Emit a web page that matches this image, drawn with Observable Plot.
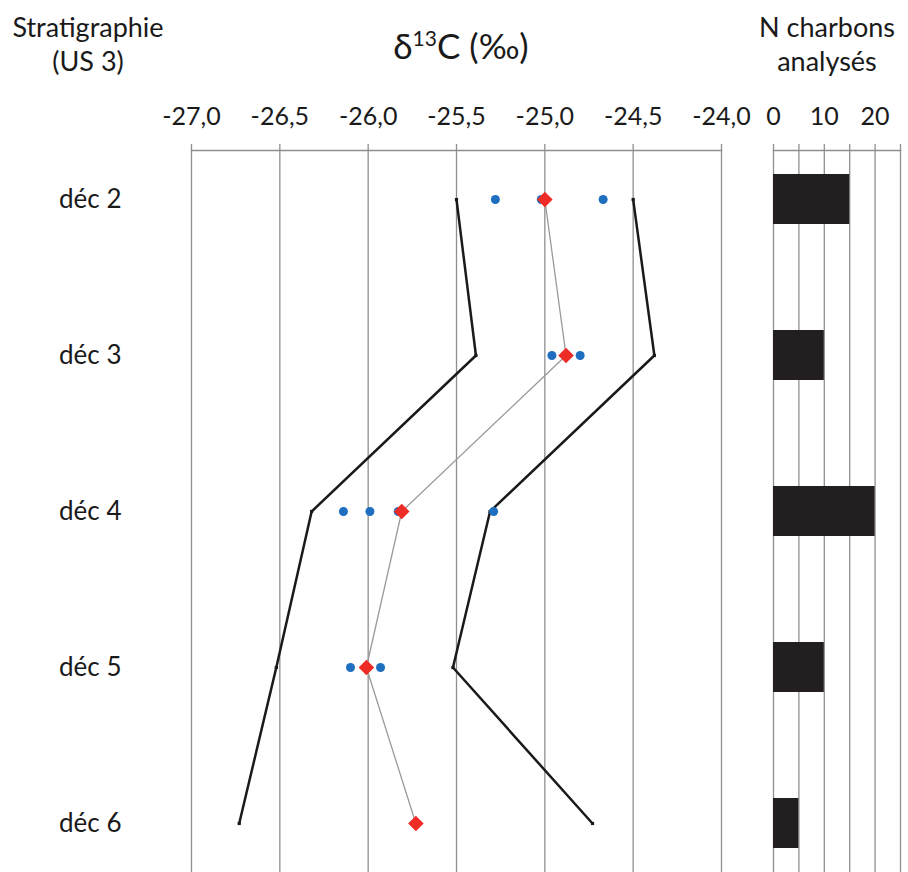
<!DOCTYPE html>
<html>
<head>
<meta charset="utf-8">
<script src="https://cdn.jsdelivr.net/npm/d3@7"></script>
<script src="https://cdn.jsdelivr.net/npm/@observablehq/plot@0.6"></script>
<style>
  body { margin: 0; background: white; }
  #wrap { position: relative; width: 908px; height: 872px; background: white; font-family: Lato, "Noto Sans", sans-serif; color: #1a1a1a; overflow: hidden; }
  .hdr { position: absolute; text-align: center; font-size: 27px; line-height: 34px; z-index: 2; }
  #main, #bars { position: absolute; top: 0; }
  #main { left: 0; }
  #bars { left: 745px; }
  #main svg, #bars svg { overflow: visible; }
</style>
</head>
<body>
<div id="wrap">
  <div class="hdr" style="left:-12px; width:200px; top:10px;">Stratigraphie<br>(US 3)</div>
  <div class="hdr" style="left:330px; width:262px; top:16px; font-size:35px; line-height:44px;">δ<sup style="font-size:21px; vertical-align: 13px;">13</sup>C (‰)</div>
  <div class="hdr" style="left:727px; width:200px; top:10px;">N charbons<br>analysés</div>
  <div id="main"></div>
  <div id="bars"></div>
</div>
<script>
// ---- data ----
const decs = ["déc 2", "déc 3", "déc 4", "déc 5", "déc 6"];
const meanD13C = [-25.00, -24.88, -25.81, -26.01, -25.73];
const lowBound = [-25.50, -25.39, -26.32, -26.52, -26.73];
const highBound = [-24.50, -24.38, -25.31, -25.52, -24.73];
const sampleDec = ["déc 2", "déc 2", "déc 2", "déc 3", "déc 3", "déc 4", "déc 4", "déc 4", "déc 4", "déc 5", "déc 5"];
const sampleD13C = [-25.28, -25.02, -24.67, -24.96, -24.80, -26.14, -25.99, -25.83, -25.29, -26.10, -25.93];
const nCharbons = [15, 10, 20, 10, 5];
const xTicks = [-27, -26.5, -26, -25.5, -25, -24.5, -24];
const nTicks = [0, 5, 10, 15, 20, 25];
const nLabels = [0, 10, 20];

const rows = decs.map((d, i) => ({dec: d, mean: meanD13C[i], low: lowBound[i], high: highBound[i], n: nCharbons[i]}));
const samples = sampleDec.map((d, i) => ({dec: d, v: sampleD13C[i]}));

const grid = "#8f8f8f";
const fmt = d => d.toFixed(1).replace(".", ",");
const baseStyle = {fontFamily: "Lato, 'Noto Sans', sans-serif", fontSize: "25px", color: "#1a1a1a", background: "transparent", overflow: "visible"};

const main = Plot.plot({
  width: 745, height: 872,
  marginLeft: 191, marginRight: 24, marginTop: 150, marginBottom: 0,
  style: baseStyle,
  x: {domain: [-27, -24]},
  y: {type: "point", domain: decs, range: [197, 824], padding: 0},
  marks: [
    Plot.gridX(xTicks, {stroke: grid, strokeOpacity: 1, strokeWidth: 1.3}),
    Plot.frame({anchor: "top", stroke: grid, strokeWidth: 1.3}),
    Plot.axisX(xTicks, {anchor: "top", tickSize: 7, tickPadding: 19, tickFormat: fmt, stroke: grid, strokeWidth: 1.3, label: null, fontSize: 25}),
    Plot.axisY({anchor: "left", tickSize: 0, tickPadding: 70, label: null, fontSize: 26}),
    Plot.line(rows, {x: "mean", y: "dec", stroke: "#9a9a9a", strokeWidth: 1.3}),
    Plot.line(rows, {x: "low", y: "dec", stroke: "#1a1a1a", strokeWidth: 2.5}),
    Plot.line(rows, {x: "high", y: "dec", stroke: "#1a1a1a", strokeWidth: 2.5}),
    Plot.dot(rows, {x: "low", y: "dec", symbol: "square", r: 1.8, fill: "#1a1a1a"}),
    Plot.dot(rows, {x: "high", y: "dec", symbol: "square", r: 1.8, fill: "#1a1a1a"}),
    Plot.dot(samples, {x: "v", y: "dec", r: 4.5, fill: "#1f6fc0"}),
    Plot.dot(rows, {x: "mean", y: "dec", symbol: "square", rotate: 45, r: 6.2, fill: "#ee2b24"})
  ]
});
document.getElementById("main").appendChild(main);

const bars = Plot.plot({
  width: 163, height: 872,
  marginLeft: 28, marginRight: 8, marginTop: 150, marginBottom: 0,
  style: baseStyle,
  x: {domain: [0, 25]},
  y: {type: "band", domain: decs, range: [118.5, 902.5], paddingInner: 0.68, paddingOuter: 0.34, axis: null},
  marks: [
    Plot.gridX(nTicks, {stroke: grid, strokeOpacity: 1, strokeWidth: 1.3}),
    Plot.frame({anchor: "top", stroke: grid, strokeWidth: 1.3}),
    Plot.axisX(nTicks, {anchor: "top", tickSize: 7, tickPadding: 19, tickFormat: d => nLabels.includes(d) ? String(d) : "", stroke: grid, strokeWidth: 1.3, label: null, fontSize: 25}),
    Plot.barX(rows, {x: "n", y: "dec", fill: "#231f20"})
  ]
});
document.getElementById("bars").appendChild(bars);
</script>
</body>
</html>
